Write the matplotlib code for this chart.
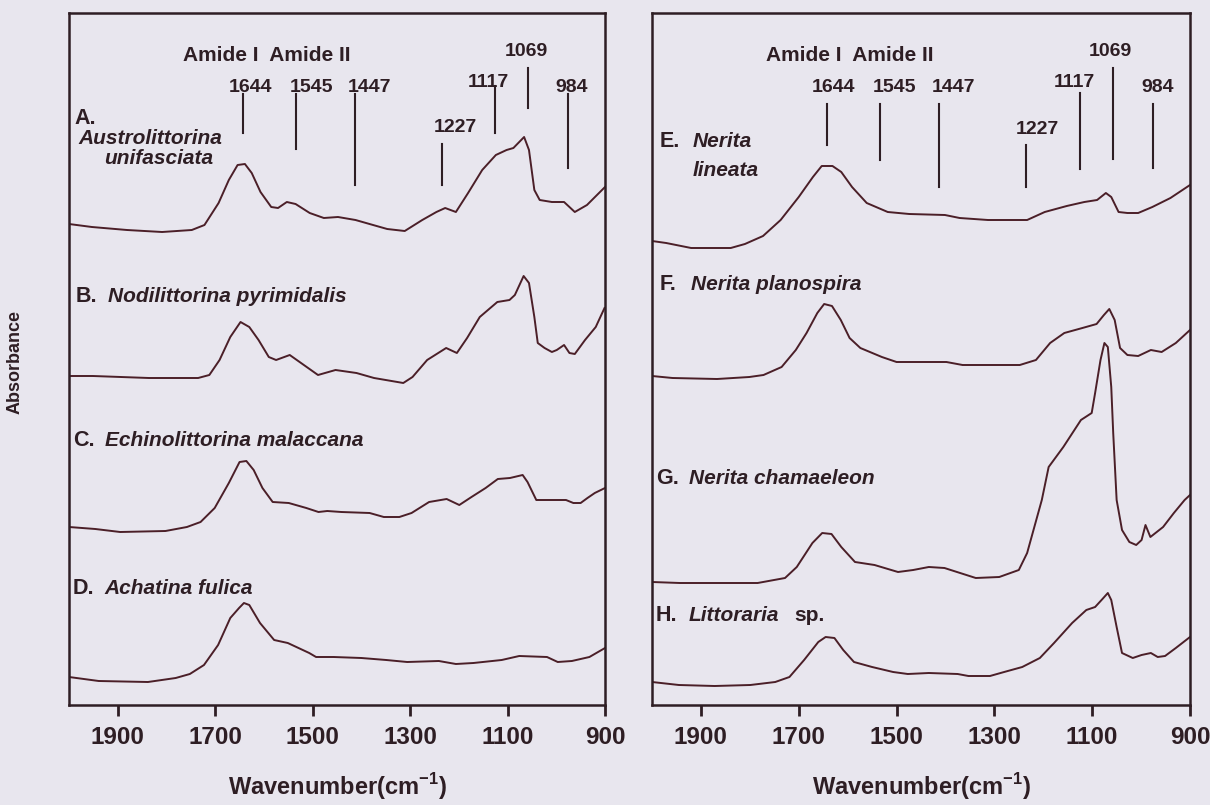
import numpy as np
import matplotlib
matplotlib.use("Agg")
from matplotlib import pyplot as plt
import matplotlib.transforms as mtransforms

plt.rcParams['font.family'] = ['Liberation Sans', 'DejaVu Sans']
plt.rcParams['mathtext.fontset'] = 'custom'
plt.rcParams['mathtext.rm'] = 'Liberation Sans'
plt.rcParams['mathtext.bf'] = 'Liberation Sans:bold'

# spectra (wavenumber cm-1, absorbance a.u. above its own offset)
wn_A = [2000, 1953, 1881, 1809, 1748, 1722, 1693, 1672, 1654, 1639, 1625, 1607, 1585, 1571, 1553, 1535,
        1506, 1477, 1448, 1412, 1376, 1347, 1311, 1275, 1246, 1228, 1206, 1181, 1152, 1124, 1102, 1088,
        1066, 1056, 1045, 1034, 1009, 984, 962, 937, 900]
ab_A = [0.11, 0.08, 0.05, 0.03, 0.05, 0.10, 0.32, 0.55, 0.70, 0.71, 0.62, 0.43, 0.28, 0.27, 0.33, 0.31,
        0.22, 0.17, 0.18, 0.15, 0.10, 0.06, 0.04, 0.15, 0.23, 0.27, 0.23, 0.42, 0.65, 0.80, 0.85, 0.87,
        0.98, 0.85, 0.45, 0.35, 0.33, 0.33, 0.23, 0.30, 0.48]

wn_B = [2000, 1951, 1836, 1735, 1712, 1691, 1669, 1648, 1630, 1611, 1590, 1575, 1547, 1518, 1489, 1453,
        1410, 1374, 1314, 1295, 1265, 1226, 1204, 1183, 1157, 1121, 1096, 1085, 1067, 1056, 1045, 1038,
        1024, 1009, 999, 984, 973, 962, 941, 919, 901]
ab_B = [0.09, 0.09, 0.07, 0.07, 0.10, 0.25, 0.48, 0.63, 0.58, 0.45, 0.28, 0.25, 0.30, 0.20, 0.10, 0.15,
        0.12, 0.07, 0.02, 0.08, 0.25, 0.37, 0.32, 0.47, 0.68, 0.83, 0.85, 0.90, 1.09, 1.02, 0.68, 0.42,
        0.37, 0.33, 0.35, 0.40, 0.32, 0.31, 0.45, 0.58, 0.77]

wn_C = [2000, 1946, 1895, 1802, 1758, 1730, 1701, 1672, 1650, 1636, 1621, 1603, 1582, 1549, 1513, 1488,
        1470, 1441, 1383, 1354, 1322, 1297, 1261, 1225, 1199, 1174, 1145, 1120, 1095, 1069, 1059, 1041,
        1030, 980, 965, 950, 936, 921, 900]
ab_C = [0.08, 0.06, 0.03, 0.04, 0.08, 0.13, 0.27, 0.52, 0.73, 0.74, 0.65, 0.47, 0.33, 0.32, 0.27, 0.23,
        0.24, 0.23, 0.22, 0.18, 0.18, 0.22, 0.33, 0.36, 0.30, 0.38, 0.47, 0.56, 0.57, 0.60, 0.53, 0.35,
        0.35, 0.35, 0.32, 0.32, 0.37, 0.42, 0.47]

wn_D = [2000, 1939, 1838, 1781, 1752, 1723, 1694, 1669, 1651, 1641, 1630, 1608, 1579, 1551, 1507, 1493,
        1457, 1400, 1349, 1306, 1241, 1206, 1170, 1112, 1076, 1019, 997, 968, 932, 900]
ab_D = [0.08, 0.04, 0.03, 0.07, 0.11, 0.20, 0.40, 0.67, 0.77, 0.82, 0.80, 0.62, 0.45, 0.42, 0.32, 0.28,
        0.28, 0.27, 0.25, 0.23, 0.24, 0.21, 0.22, 0.25, 0.29, 0.28, 0.23, 0.24, 0.28, 0.37]

wn_E = [2000, 1971, 1920, 1839, 1810, 1773, 1737, 1700, 1671, 1653, 1631, 1613, 1591, 1561, 1518, 1474,
        1401, 1371, 1313, 1233, 1197, 1152, 1116, 1090, 1072, 1061, 1046, 1028, 1006, 977, 940, 900]
ab_E = [0.14, 0.12, 0.07, 0.07, 0.11, 0.19, 0.35, 0.58, 0.78, 0.89, 0.89, 0.83, 0.68, 0.52, 0.43, 0.41,
        0.40, 0.37, 0.35, 0.35, 0.43, 0.49, 0.53, 0.55, 0.62, 0.58, 0.43, 0.42, 0.42, 0.48, 0.57, 0.70]

wn_F = [2000, 1958, 1867, 1801, 1772, 1735, 1706, 1684, 1662, 1648, 1632, 1614, 1596, 1574, 1530, 1500,
        1398, 1365, 1248, 1215, 1186, 1157, 1120, 1091, 1076, 1065, 1054, 1043, 1028, 1006, 980, 958,
        929, 900]
ab_F = [0.09, 0.07, 0.06, 0.08, 0.10, 0.18, 0.35, 0.52, 0.72, 0.81, 0.79, 0.65, 0.47, 0.37, 0.28, 0.23,
        0.23, 0.20, 0.20, 0.25, 0.42, 0.52, 0.57, 0.61, 0.70, 0.76, 0.65, 0.37, 0.30, 0.29, 0.35, 0.33,
        0.42, 0.55]

wn_G = [2000, 1943, 1863, 1784, 1728, 1704, 1672, 1652, 1633, 1613, 1585, 1545, 1497, 1466, 1434, 1402,
        1370, 1338, 1290, 1250, 1233, 1203, 1189, 1159, 1123, 1101, 1094, 1083, 1075, 1068, 1061, 1057,
        1050, 1039, 1024, 1010, 999, 991, 981, 955, 933, 911, 900]
ab_G = [0.03, 0.02, 0.02, 0.02, 0.07, 0.18, 0.42, 0.52, 0.51, 0.38, 0.23, 0.20, 0.13, 0.15, 0.18, 0.17,
        0.12, 0.07, 0.08, 0.15, 0.32, 0.85, 1.18, 1.38, 1.65, 1.72, 1.92, 2.25, 2.42, 2.38, 1.98, 1.52,
        0.85, 0.55, 0.43, 0.40, 0.45, 0.60, 0.48, 0.58, 0.72, 0.85, 0.90]

wn_H = [2000, 1945, 1872, 1799, 1748, 1719, 1689, 1660, 1645, 1627, 1609, 1587, 1550, 1507, 1477, 1434,
        1375, 1353, 1309, 1280, 1243, 1207, 1178, 1141, 1112, 1094, 1079, 1068, 1061, 1050, 1039, 1017,
        999, 980, 966, 951, 929, 900]
ab_H = [0.08, 0.05, 0.04, 0.05, 0.08, 0.13, 0.30, 0.48, 0.53, 0.52, 0.40, 0.28, 0.23, 0.18, 0.16, 0.17,
        0.16, 0.14, 0.14, 0.18, 0.23, 0.32, 0.47, 0.67, 0.80, 0.83, 0.91, 0.97, 0.90, 0.63, 0.37, 0.32,
        0.35, 0.37, 0.33, 0.34, 0.42, 0.53]

letters_left = ["A.", "B.", "C.", "D."]
names_left = [["Austrolittorina", "unifasciata"], ["Nodilittorina pyrimidalis"],
              ["Echinolittorina malaccana"], ["Achatina fulica"]]
offsets_left = [4.70, 3.20, 1.70, 0.20]

letters_right = ["E.", "F.", "G.", "H."]
names_right = [["Nerita", "lineata"], ["Nerita planospira"], ["Nerita chamaeleon"], ["Littoraria"]]
offsets_right = [4.50, 3.20, 1.20, 0.15]

band_labels = ["1644", "1545", "1447", "1227", "1117", "1069", "984"]
band_pos = [1643, 1534, 1414, 1235, 1125, 1058, 975]

xticks = [1900, 1700, 1500, 1300, 1100, 900]

line_c = "#4b1f28"
text_c = "#2e1e24"
bg = "#e8e6ee"

fig = plt.figure(figsize=(12.1, 8.05), dpi=100, facecolor=bg)
ax_l = fig.add_axes([69 / 1210, 100 / 805, 536 / 1210, 692 / 805])
ax_r = fig.add_axes([652 / 1210, 100 / 805, 538 / 1210, 692 / 805])

spec_left = [(wn_A, ab_A), (wn_B, ab_B), (wn_C, ab_C), (wn_D, ab_D)]
spec_right = [(wn_E, ab_E), (wn_F, ab_F), (wn_G, ab_G), (wn_H, ab_H)]

# label layout (axes fraction): letter (x, y), then one (x, y) per name line
lab_left = [((0.010, 0.848), [(0.017, 0.819), (0.065, 0.790)]),
            ((0.013, 0.590), [(0.072, 0.590)]),
            ((0.007, 0.382), [(0.068, 0.382)]),
            ((0.007, 0.169), [(0.066, 0.169)])]
lab_right = [((0.015, 0.814), [(0.075, 0.814), (0.075, 0.773)]),
             ((0.015, 0.607), [(0.072, 0.607)]),
             ((0.007, 0.328), [(0.068, 0.328)]),
             ((0.007, 0.130), [(0.068, 0.130)])]

# band marker layout (axes fraction): line bottom, line top, label y, label x shift (cm-1)
marks_left = [(0.827, 0.883, 0.892, -16), (0.803, 0.883, 0.892, -32), (0.751, 0.883, 0.892, -30),
              (0.751, 0.811, 0.834, -28), (0.827, 0.894, 0.900, 14), (0.863, 0.921, 0.944, 4),
              (0.776, 0.883, 0.892, -7)]
marks_right = [(0.809, 0.868, 0.892, -14), (0.788, 0.868, 0.892, -30), (0.748, 0.868, 0.892, -30),
               (0.748, 0.809, 0.831, -22), (0.775, 0.884, 0.900, 12), (0.789, 0.921, 0.944, 4),
               (0.776, 0.868, 0.892, -8)]

panels = [(ax_l, spec_left, offsets_left, letters_left, names_left, lab_left, marks_left),
          (ax_r, spec_right, offsets_right, letters_right, names_right, lab_right, marks_right)]

for ax, specs, offs, letters, names, labs, marks in panels:
    ax.set_facecolor(bg)
    for (wn, ab), off in zip(specs, offs):
        ax.plot(wn, np.array(ab) + off, color=line_c, lw=1.4)
    ax.set_xlim(2000, 900)
    ax.set_ylim(0, 6.92)
    ax.set_yticks([])
    ax.set_xticks(xticks)
    ax.set_xticklabels([str(t) for t in xticks], fontsize=17.5, fontweight="bold", color=text_c)
    ax.tick_params(axis="x", direction="out", length=8, width=2, color=text_c, pad=7)
    for s in ax.spines.values():
        s.set_linewidth(1.8)
        s.set_color(text_c)
    ax.text(0.5, -0.118, r"Wavenumber(cm$^{\mathbf{-1}}$)", transform=ax.transAxes,
            ha="center", va="center", fontsize=17, fontweight="bold", color=text_c)

    tr = mtransforms.blended_transform_factory(ax.transData, ax.transAxes)
    for pos, lbl, (y0, y1, ty, dx) in zip(band_pos, band_labels, marks):
        ax.plot([pos, pos], [y0, y1], transform=tr, color=text_c, lw=1.5)
        ax.text(pos + dx, ty, lbl, transform=tr, ha="center", va="center",
                fontsize=14, fontweight="bold", color=text_c)
    ax.text(1595, 0.939, "Amide I  Amide II", transform=tr, ha="center", va="center",
            fontsize=15, fontweight="bold", color=text_c)

    for letter, name, ((lx, ly), npos) in zip(letters, names, labs):
        ax.text(lx, ly, letter, transform=ax.transAxes, ha="left", va="center",
                fontsize=15.5, fontweight="bold", color=text_c)
        for line, (nx, ny) in zip(name, npos):
            ax.text(nx, ny, line, transform=ax.transAxes, ha="left", va="center",
                    fontsize=15, fontweight="bold", style="italic", color=text_c)

# "sp." is upright in the source
ax_r.text(0.265, 0.130, "sp.", transform=ax_r.transAxes, ha="left", va="center",
          fontsize=15, fontweight="bold", color=text_c)

fig.text(15 / 1210, 1 - 362 / 805, "Absorbance", rotation=90, ha="center", va="center",
         fontsize=13, fontweight="bold", color=text_c)

fig.savefig("out.png", dpi=100, facecolor=bg)
